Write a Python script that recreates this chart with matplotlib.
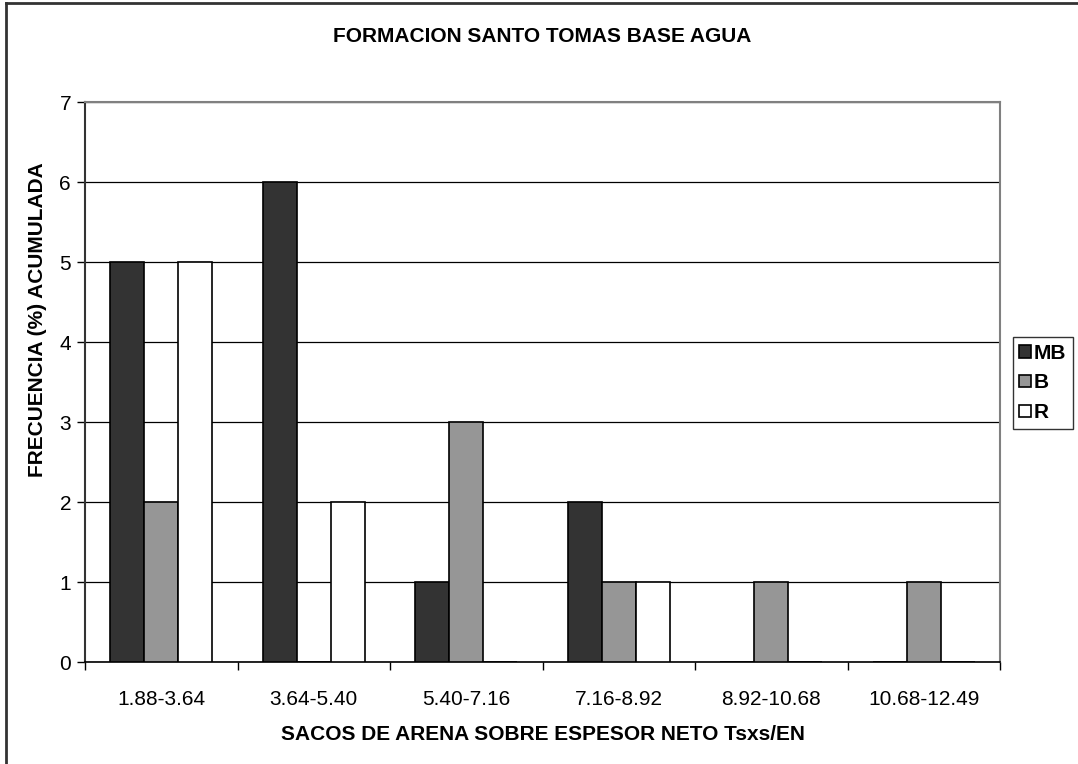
import numpy as np
import matplotlib
matplotlib.use("Agg")
import matplotlib.pyplot as plt
from matplotlib.lines import Line2D

plt.rcParams['font.family'] = ['Liberation Sans', 'DejaVu Sans']

# data
categorias = ["1.88-3.64", "3.64-5.40", "5.40-7.16", "7.16-8.92", "8.92-10.68", "10.68-12.49"]
mb = [5, 6, 1, 2, 0, 0]
b = [2, 0, 3, 1, 1, 1]
r = [5, 2, 0, 1, 0, 0]
series = ["MB", "B", "R"]
colores = ["#333333", "#969696", "#ffffff"]

fig = plt.figure(figsize=(10.78, 7.64), dpi=100)
W, H = 1078, 764
ax = fig.add_axes([85 / W, 1 - 662 / H, 915 / W, 560 / H])

x = np.arange(len(categorias))
w = 0.224
for i, (vals, col, name) in enumerate(zip([mb, b, r], colores, series)):
    ax.bar(x + (i - 1) * w, vals, width=w, color=col, edgecolor='black',
           linewidth=1.2, label=name, zorder=3)

ax.set_xlim(-0.5, len(categorias) - 0.5)
ax.set_ylim(0, 7)
ax.set_yticks(range(0, 8))
ax.yaxis.grid(True, color='black', linewidth=0.9, zorder=0)

# category labels at centres, tick marks at the boundaries
ax.set_xticks(x)
ax.set_xticklabels(categorias, fontsize=15)
ax.set_xticks(np.arange(-0.5, len(categorias)), minor=True)
ax.tick_params(axis='x', which='major', length=0, pad=20)
ax.tick_params(axis='x', which='minor', length=6, width=1, direction='out')
ax.tick_params(axis='y', length=6, width=1, direction='out', pad=4, labelsize=15)

for s in ['top', 'right']:
    ax.spines[s].set_color('#808080')
    ax.spines[s].set_linewidth(1.5)
ax.spines['left'].set_color('#333333')
ax.spines['left'].set_linewidth(1.5)
ax.spines['bottom'].set_color('black')
ax.spines['bottom'].set_linewidth(1.2)

ax.set_xlabel("SACOS DE ARENA SOBRE ESPESOR NETO Tsxs/EN", fontsize=15,
              fontweight='bold', va='center')
ax.xaxis.set_label_coords(0.5, (662 - 734) / 560)
ax.set_ylabel("FRECUENCIA (%) ACUMULADA", fontsize=15, fontweight='bold',
              va='center', ha='center')
ax.yaxis.set_label_coords((38 - 85) / 915, (662 - 320) / 560)

ax.text(0.5, (662 - 37) / 560, "FORMACION SANTO TOMAS BASE AGUA", transform=ax.transAxes,
        ha='center', va='center', fontsize=15, fontweight='bold')

leg = ax.legend(loc='center left', bbox_to_anchor=(1013 / W, 1 - 383 / H),
                bbox_transform=fig.transFigure, frameon=True, fancybox=False,
                prop={'size': 15, 'weight': 'bold'}, handlelength=0.55,
                handleheight=0.55, handletextpad=0.15, labelspacing=0.52,
                borderpad=0.3, borderaxespad=0)
leg.get_frame().set_edgecolor('black')
leg.get_frame().set_linewidth(1)

# outer chart border (left and top only visible)
fig.add_artist(Line2D([6 / W, 6 / W], [0, 1 - 3 / H], color='#333333', linewidth=2,
                      transform=fig.transFigure))
fig.add_artist(Line2D([6 / W, 1], [1 - 3 / H, 1 - 3 / H], color='#333333', linewidth=2,
                      transform=fig.transFigure))

fig.savefig("out.png", dpi=100)
